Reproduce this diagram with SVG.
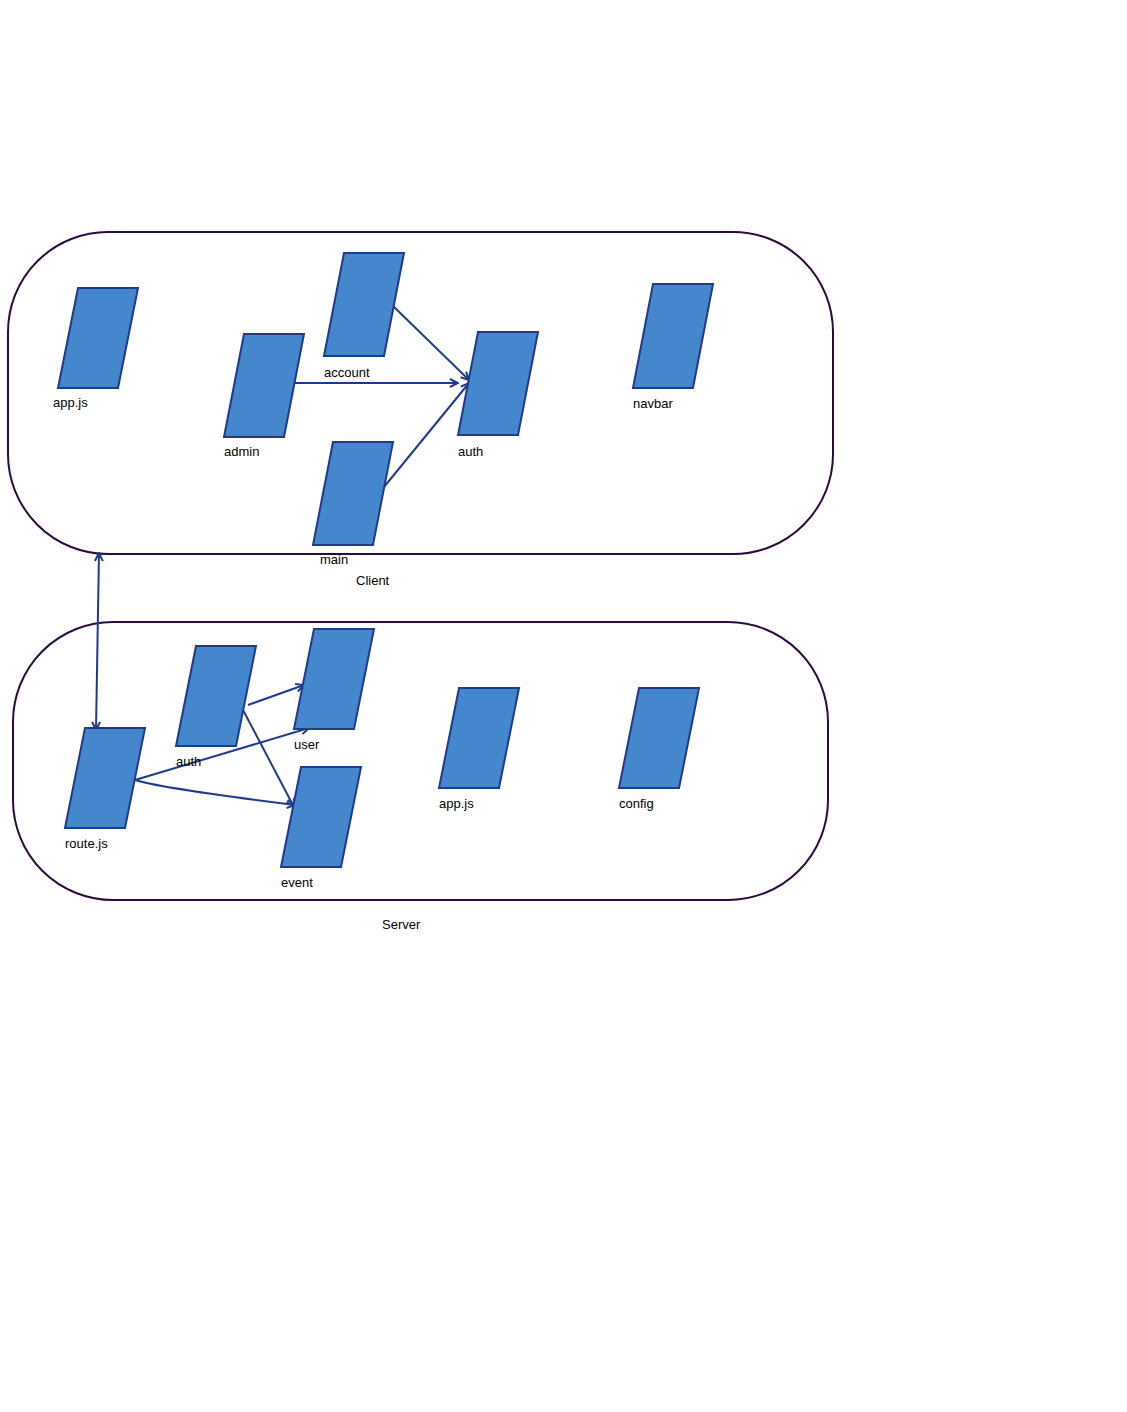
<svg xmlns="http://www.w3.org/2000/svg" width="1127" height="1412" viewBox="0 0 1127 1412">
<style>
.c{fill:none;stroke:#2b0a3d;stroke-width:2}
.n{fill:#4587cc;stroke:#1f3a8a;stroke-width:2;stroke-linejoin:miter}
.l{fill:none;stroke:#1f3a8a;stroke-width:2}
text{font-family:"Liberation Sans",Arial,sans-serif;font-size:13px;fill:#000}
</style>
<defs>
<marker id="a" viewBox="0 0 10 10" refX="9" refY="5" markerWidth="10" markerHeight="10" markerUnits="userSpaceOnUse" orient="auto-start-reverse">
<path d="M1,1 L9,5 L1,9" fill="none" stroke="#1f3a8a" stroke-width="2"/>
</marker>
</defs>
<rect fill="#fff" width="1127" height="1412"/>
<g id="client">
<rect class="c" x="8" y="232" width="825" height="322" rx="100" ry="100"/>
<text x="356" y="585">Client</text>
</g>
<g id="server">
<rect class="c" x="13" y="622" width="815" height="278" rx="100" ry="100"/>
<text x="382" y="929">Server</text>
</g>
<g id="connectors">
<path class="l" d="M393,306 L469,380" marker-end="url(#a)"/>
<path class="l" d="M294,383 L458,383" marker-end="url(#a)"/>
<path class="l" d="M384,487 L469,383" marker-end="url(#a)"/>
<path class="l" d="M99,553 L96,730" marker-start="url(#a)" marker-end="url(#a)"/>
<path class="l" d="M248,705 L304,685" marker-end="url(#a)"/>
<path class="l" d="M135,780 L309,728" marker-end="url(#a)"/>
<path class="l" d="M135,780 Q160,788 295,805" marker-end="url(#a)"/>
<path class="l" d="M243,710 L294,807" marker-end="url(#a)"/>
</g>
<g id="c-app"><polygon class="n" points="78,288 138,288 118,388 58,388"/><text x="53" y="407">app.js</text></g>
<g id="c-admin"><polygon class="n" points="244,334 304,334 284,437 224,437"/><text x="224" y="456">admin</text></g>
<g id="c-account"><polygon class="n" points="344,253 404,253 384,356 324,356"/><text x="324" y="377">account</text></g>
<g id="c-main"><polygon class="n" points="333,442 393,442 373,545 313,545"/><text x="320" y="564">main</text></g>
<g id="c-auth"><polygon class="n" points="478,332 538,332 518,435 458,435"/><text x="458" y="456">auth</text></g>
<g id="c-navbar"><polygon class="n" points="653,284 713,284 693,388 633,388"/><text x="633" y="408">navbar</text></g>
<g id="s-route"><polygon class="n" points="85,728 145,728 125,828 65,828"/><text x="65" y="848">route.js</text></g>
<g id="s-auth"><polygon class="n" points="196,646 256,646 236,746 176,746"/><text x="176" y="766">auth</text></g>
<g id="s-user"><polygon class="n" points="314,629 374,629 354,729 294,729"/><text x="294" y="749">user</text></g>
<g id="s-event"><polygon class="n" points="301,767 361,767 341,867 281,867"/><text x="281" y="887">event</text></g>
<g id="s-app"><polygon class="n" points="459,688 519,688 499,788 439,788"/><text x="439" y="808">app.js</text></g>
<g id="s-config"><polygon class="n" points="639,688 699,688 679,788 619,788"/><text x="619" y="808">config</text></g>
</svg>
